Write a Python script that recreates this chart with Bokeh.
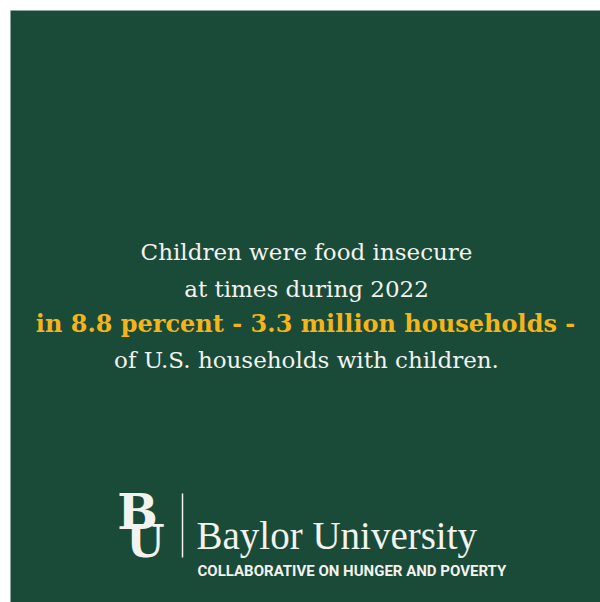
from bokeh.plotting import figure
from bokeh.models import Range1d
from bokeh.core.properties import value
from bokeh.embed import file_html
from bokeh.resources import INLINE

# ---- content ----
headline_lines = ["Children were food insecure", "at times during 2022"]
highlight_line = "in 8.8 percent - 3.3 million households -"
closing_line = "of U.S. households with children."
brand_name = "Baylor University"
brand_sub = "COLLABORATIVE ON HUNGER AND POVERTY"
mark_letters = ["B", "U"]

BG = "#1a4a38"
WHITE = "#f2f2ee"
GOLD = "#f3b41c"

p = figure(width=600, height=602, output_backend="svg", toolbar_location=None,
           x_range=Range1d(10, 600), y_range=Range1d(602, 10),
           min_border_left=10, min_border_top=10, min_border_right=0, min_border_bottom=0,
           background_fill_color=BG, border_fill_color="white")
p.outline_line_color = None
p.axis.visible = False
p.grid.visible = False
p.xaxis.visible = False
p.yaxis.visible = False

serif = value("DejaVu Serif")

p.text(x=[306, 306], y=[251, 288], text=headline_lines, text_font=serif,
       text_font_size="23px", text_color=WHITE, text_align="center", text_baseline="middle")
p.text(x=[305], y=[323], text=[highlight_line], text_font=serif, text_font_style="bold",
       text_font_size="24px", text_color=GOLD, text_align="center", text_baseline="middle")
p.text(x=[306], y=[359], text=[closing_line], text_font=serif,
       text_font_size="23px", text_color=WHITE, text_align="center", text_baseline="middle")

# logo mark
p.text(x=[137], y=[511], text=[mark_letters[0]], text_font=serif, text_font_style="bold",
       text_font_size="48px", text_color=WHITE, text_align="center", text_baseline="middle")
p.text(x=[145], y=[541], text=[mark_letters[1]], text_font=serif, text_font_style="bold",
       text_font_size="44px", text_color=WHITE, text_align="center", text_baseline="middle")
p.segment(x0=[182], y0=[493], x1=[182], y1=[557], line_color=WHITE, line_width=1.5)

p.text(x=[196], y=[535], text=[brand_name], text_font=value("Liberation Serif"),
       text_font_size="39px", text_color=WHITE, text_align="left", text_baseline="alphabetic")
p.text(x=[197], y=[570], text=[brand_sub], text_font=value("Roboto"), text_font_style="bold",
       text_font_size="15px", text_color=WHITE, text_align="left", text_baseline="middle")

open("out.html", "w").write(file_html(p, INLINE))
